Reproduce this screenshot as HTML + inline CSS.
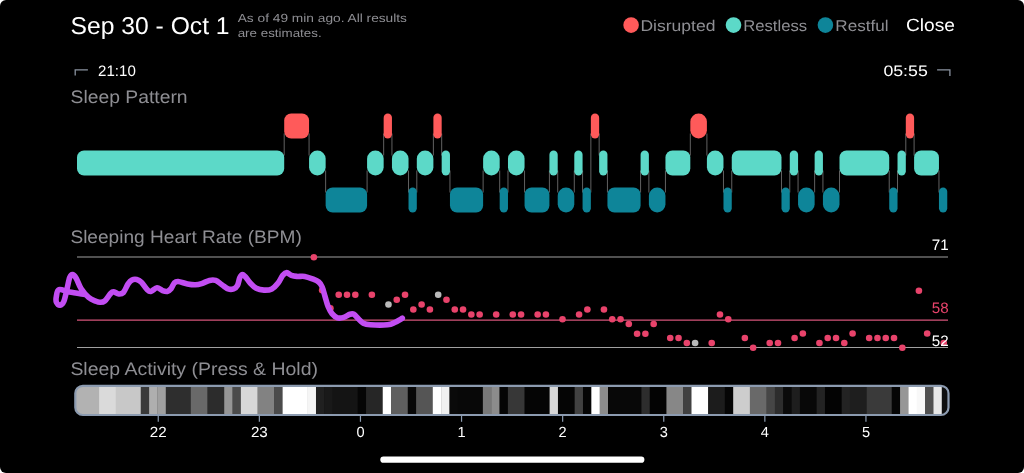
<!DOCTYPE html>
<html><head><meta charset="utf-8"><title>Sleep</title>
<style>
html,body{margin:0;padding:0;background:#fff;}
body{width:1024px;height:473px;overflow:hidden;}
#app{position:absolute;left:0;top:0;width:1024px;height:473px;background:#000;border-radius:6px;overflow:hidden;}
svg{position:absolute;left:0;top:0;}
text{font-family:"Liberation Sans",sans-serif;text-rendering:geometricPrecision;}
</style></head><body><div id="app">
<svg width="1024" height="473" viewBox="0 0 1024 473">
<defs><clipPath id="ac"><rect x="75.3" y="385.8" width="873.2" height="29.2" rx="7.5"/></clipPath></defs>
<!-- header -->
<text x="70.6" y="33.6" font-size="24.3" fill="#fff" textLength="159" lengthAdjust="spacingAndGlyphs">Sep 30 - Oct 1</text>
<text x="237.7" y="22.1" font-size="11.8" fill="#8e8e93" textLength="169.3" lengthAdjust="spacingAndGlyphs">As of 49 min ago. All results</text>
<text x="237.7" y="36.7" font-size="11.8" fill="#8e8e93" textLength="84" lengthAdjust="spacingAndGlyphs">are estimates.</text>
<circle cx="631.1" cy="25.1" r="7.8" fill="#ff5a5a"/>
<text x="640.4" y="30.8" font-size="15.6" fill="#8e8e93" textLength="75" lengthAdjust="spacingAndGlyphs">Disrupted</text>
<circle cx="733.5" cy="25.1" r="7.8" fill="#5cd9c8"/>
<text x="743.2" y="30.8" font-size="15.6" fill="#8e8e93" textLength="64" lengthAdjust="spacingAndGlyphs">Restless</text>
<circle cx="825.4" cy="25.1" r="7.8" fill="#0e8599"/>
<text x="835.3" y="30.8" font-size="15.6" fill="#8e8e93" textLength="53.2" lengthAdjust="spacingAndGlyphs">Restful</text>
<text x="906" y="31.4" font-size="17.7" fill="#fff" textLength="49" lengthAdjust="spacingAndGlyphs">Close</text>
<!-- time range -->
<path d="M75.2,75.6 V69.8 H87.9" fill="none" stroke="#8a93a0" stroke-width="1.3"/>
<text x="98.1" y="75.5" font-size="15.2" fill="#fff" textLength="37.7" lengthAdjust="spacingAndGlyphs">21:10</text>
<text x="883.4" y="75.5" font-size="15.2" fill="#fff" textLength="44.4" lengthAdjust="spacingAndGlyphs">05:55</text>
<path d="M937.1,69.9 H949.9 V75.9" fill="none" stroke="#8a93a0" stroke-width="1.3"/>
<text x="70.6" y="102.6" font-size="18.1" fill="#8e8e93" textLength="117" lengthAdjust="spacingAndGlyphs">Sleep Pattern</text>
<!-- pattern -->
<g stroke="#7a7a7a" stroke-width="0.8"><line x1="284.20" y1="133.5" x2="284.20" y2="155.5"/><line x1="309.07" y1="133.5" x2="309.07" y2="155.5"/><line x1="325.64" y1="170.5" x2="325.64" y2="192.5"/><line x1="367.08" y1="170.5" x2="367.08" y2="192.5"/><line x1="383.66" y1="133.5" x2="383.66" y2="155.5"/><line x1="391.95" y1="133.5" x2="391.95" y2="155.5"/><line x1="408.52" y1="170.5" x2="408.52" y2="192.5"/><line x1="416.81" y1="170.5" x2="416.81" y2="192.5"/><line x1="433.39" y1="133.5" x2="433.39" y2="155.5"/><line x1="441.68" y1="133.5" x2="441.68" y2="155.5"/><line x1="449.96" y1="170.5" x2="449.96" y2="192.5"/><line x1="483.12" y1="170.5" x2="483.12" y2="192.5"/><line x1="499.69" y1="170.5" x2="499.69" y2="192.5"/><line x1="507.98" y1="170.5" x2="507.98" y2="192.5"/><line x1="524.56" y1="170.5" x2="524.56" y2="192.5"/><line x1="549.42" y1="170.5" x2="549.42" y2="192.5"/><line x1="557.71" y1="170.5" x2="557.71" y2="192.5"/><line x1="574.29" y1="170.5" x2="574.29" y2="192.5"/><line x1="582.57" y1="170.5" x2="582.57" y2="192.5"/><line x1="590.86" y1="133.5" x2="590.86" y2="192.5"/><line x1="599.15" y1="133.5" x2="599.15" y2="155.5"/><line x1="607.44" y1="170.5" x2="607.44" y2="192.5"/><line x1="640.59" y1="170.5" x2="640.59" y2="192.5"/><line x1="648.88" y1="170.5" x2="648.88" y2="192.5"/><line x1="665.45" y1="170.5" x2="665.45" y2="192.5"/><line x1="690.32" y1="133.5" x2="690.32" y2="155.5"/><line x1="706.90" y1="133.5" x2="706.90" y2="155.5"/><line x1="723.47" y1="170.5" x2="723.47" y2="192.5"/><line x1="731.76" y1="170.5" x2="731.76" y2="192.5"/><line x1="781.49" y1="170.5" x2="781.49" y2="192.5"/><line x1="789.78" y1="170.5" x2="789.78" y2="192.5"/><line x1="798.06" y1="170.5" x2="798.06" y2="192.5"/><line x1="814.64" y1="170.5" x2="814.64" y2="192.5"/><line x1="822.93" y1="170.5" x2="822.93" y2="192.5"/><line x1="839.50" y1="170.5" x2="839.50" y2="192.5"/><line x1="889.23" y1="170.5" x2="889.23" y2="192.5"/><line x1="897.52" y1="170.5" x2="897.52" y2="192.5"/><line x1="905.81" y1="133.5" x2="905.81" y2="155.5"/><line x1="914.10" y1="133.5" x2="914.10" y2="155.5"/><line x1="938.96" y1="170.5" x2="938.96" y2="192.5"/></g>
<rect x="77.00" y="150.5" width="207.20" height="25" rx="7.00" fill="#5cd9c8"/>
<rect x="284.20" y="113.5" width="24.86" height="25" rx="7.00" fill="#ff5a5a"/>
<rect x="309.07" y="150.5" width="16.58" height="25" rx="8.29" fill="#5cd9c8"/>
<rect x="325.64" y="187.5" width="41.44" height="25" rx="7.00" fill="#0e8599"/>
<rect x="367.08" y="150.5" width="16.58" height="25" rx="8.29" fill="#5cd9c8"/>
<rect x="383.66" y="113.5" width="8.29" height="25" rx="4.14" fill="#ff5a5a"/>
<rect x="391.95" y="150.5" width="16.58" height="25" rx="8.29" fill="#5cd9c8"/>
<rect x="408.52" y="187.5" width="8.29" height="25" rx="4.14" fill="#0e8599"/>
<rect x="416.81" y="150.5" width="16.58" height="25" rx="8.29" fill="#5cd9c8"/>
<rect x="433.39" y="113.5" width="8.29" height="25" rx="4.14" fill="#ff5a5a"/>
<rect x="441.68" y="150.5" width="8.29" height="25" rx="4.14" fill="#5cd9c8"/>
<rect x="449.96" y="187.5" width="33.15" height="25" rx="7.00" fill="#0e8599"/>
<rect x="483.12" y="150.5" width="16.58" height="25" rx="8.29" fill="#5cd9c8"/>
<rect x="499.69" y="187.5" width="8.29" height="25" rx="4.14" fill="#0e8599"/>
<rect x="507.98" y="150.5" width="16.58" height="25" rx="8.29" fill="#5cd9c8"/>
<rect x="524.56" y="187.5" width="24.86" height="25" rx="7.00" fill="#0e8599"/>
<rect x="549.42" y="150.5" width="8.29" height="25" rx="4.14" fill="#5cd9c8"/>
<rect x="557.71" y="187.5" width="16.58" height="25" rx="8.29" fill="#0e8599"/>
<rect x="574.29" y="150.5" width="8.29" height="25" rx="4.14" fill="#5cd9c8"/>
<rect x="582.57" y="187.5" width="8.29" height="25" rx="4.14" fill="#0e8599"/>
<rect x="590.86" y="113.5" width="8.29" height="25" rx="4.14" fill="#ff5a5a"/>
<rect x="599.15" y="150.5" width="8.29" height="25" rx="4.14" fill="#5cd9c8"/>
<rect x="607.44" y="187.5" width="33.15" height="25" rx="7.00" fill="#0e8599"/>
<rect x="640.59" y="150.5" width="8.29" height="25" rx="4.14" fill="#5cd9c8"/>
<rect x="648.88" y="187.5" width="16.58" height="25" rx="8.29" fill="#0e8599"/>
<rect x="665.45" y="150.5" width="24.86" height="25" rx="7.00" fill="#5cd9c8"/>
<rect x="690.32" y="113.5" width="16.58" height="25" rx="8.29" fill="#ff5a5a"/>
<rect x="706.90" y="150.5" width="16.58" height="25" rx="8.29" fill="#5cd9c8"/>
<rect x="723.47" y="187.5" width="8.29" height="25" rx="4.14" fill="#0e8599"/>
<rect x="731.76" y="150.5" width="49.73" height="25" rx="7.00" fill="#5cd9c8"/>
<rect x="781.49" y="187.5" width="8.29" height="25" rx="4.14" fill="#0e8599"/>
<rect x="789.78" y="150.5" width="8.29" height="25" rx="4.14" fill="#5cd9c8"/>
<rect x="798.06" y="187.5" width="16.58" height="25" rx="8.29" fill="#0e8599"/>
<rect x="814.64" y="150.5" width="8.29" height="25" rx="4.14" fill="#5cd9c8"/>
<rect x="822.93" y="187.5" width="16.58" height="25" rx="8.29" fill="#0e8599"/>
<rect x="839.50" y="150.5" width="49.73" height="25" rx="7.00" fill="#5cd9c8"/>
<rect x="889.23" y="187.5" width="8.29" height="25" rx="4.14" fill="#0e8599"/>
<rect x="897.52" y="150.5" width="8.29" height="25" rx="4.14" fill="#5cd9c8"/>
<rect x="905.81" y="113.5" width="8.29" height="25" rx="4.14" fill="#ff5a5a"/>
<rect x="914.10" y="150.5" width="24.86" height="25" rx="7.00" fill="#5cd9c8"/>
<rect x="938.96" y="187.5" width="8.29" height="25" rx="4.14" fill="#0e8599"/>
<!-- heart rate -->
<text x="70.4" y="243.2" font-size="18.1" fill="#8e8e93" textLength="231.4" lengthAdjust="spacingAndGlyphs">Sleeping Heart Rate (BPM)</text>
<line x1="77" y1="256.95" x2="948" y2="256.95" stroke="#a0a0a0" stroke-width="1.1"/>
<line x1="77" y1="347.45" x2="948" y2="347.45" stroke="#a0a0a0" stroke-width="1.1"/>
<line x1="77" y1="320.15" x2="948" y2="320.15" stroke="#d4557a" stroke-width="1.1"/>
<text x="948.6" y="249.5" font-size="15.2" fill="#fff" text-anchor="end">71</text>
<text x="948.6" y="313.3" font-size="15.2" fill="#e8436b" text-anchor="end">58</text>
<circle cx="313.87" cy="257.20" r="3.3" fill="#e8436b"/><circle cx="322.15" cy="290.20" r="3.3" fill="#e8436b"/><circle cx="330.44" cy="308.20" r="3.3" fill="#e8436b"/><circle cx="338.73" cy="294.70" r="3.3" fill="#e8436b"/><circle cx="347.02" cy="294.70" r="3.3" fill="#e8436b"/><circle cx="355.31" cy="294.70" r="3.3" fill="#e8436b"/><circle cx="371.88" cy="294.70" r="3.3" fill="#e8436b"/><circle cx="388.46" cy="304.45" r="3.3" fill="#b9b9b9"/><circle cx="396.75" cy="299.70" r="3.3" fill="#e8436b"/><circle cx="405.04" cy="294.70" r="3.3" fill="#e8436b"/><circle cx="413.32" cy="309.45" r="3.3" fill="#e8436b"/><circle cx="421.61" cy="304.45" r="3.3" fill="#e8436b"/><circle cx="429.90" cy="309.45" r="3.3" fill="#e8436b"/><circle cx="438.19" cy="294.70" r="3.3" fill="#b9b9b9"/><circle cx="446.48" cy="299.70" r="3.3" fill="#e8436b"/><circle cx="454.76" cy="309.45" r="3.3" fill="#e8436b"/><circle cx="463.05" cy="309.45" r="3.3" fill="#e8436b"/><circle cx="471.34" cy="314.45" r="3.3" fill="#e8436b"/><circle cx="479.63" cy="314.45" r="3.3" fill="#e8436b"/><circle cx="496.20" cy="314.45" r="3.3" fill="#e8436b"/><circle cx="512.78" cy="314.45" r="3.3" fill="#e8436b"/><circle cx="521.07" cy="314.45" r="3.3" fill="#e8436b"/><circle cx="537.65" cy="314.45" r="3.3" fill="#e8436b"/><circle cx="545.93" cy="314.45" r="3.3" fill="#e8436b"/><circle cx="562.51" cy="319.20" r="3.3" fill="#e8436b"/><circle cx="579.09" cy="314.45" r="3.3" fill="#e8436b"/><circle cx="587.37" cy="309.45" r="3.3" fill="#e8436b"/><circle cx="603.95" cy="309.45" r="3.3" fill="#e8436b"/><circle cx="612.24" cy="319.20" r="3.3" fill="#e8436b"/><circle cx="620.53" cy="319.20" r="3.3" fill="#e8436b"/><circle cx="628.81" cy="323.95" r="3.3" fill="#e8436b"/><circle cx="637.10" cy="333.70" r="3.3" fill="#e8436b"/><circle cx="645.39" cy="333.70" r="3.3" fill="#e8436b"/><circle cx="653.68" cy="323.95" r="3.3" fill="#e8436b"/><circle cx="670.25" cy="337.95" r="3.3" fill="#e8436b"/><circle cx="678.54" cy="337.95" r="3.3" fill="#e8436b"/><circle cx="686.83" cy="342.95" r="3.3" fill="#e8436b"/><circle cx="695.12" cy="342.95" r="3.3" fill="#b9b9b9"/><circle cx="711.70" cy="342.95" r="3.3" fill="#e8436b"/><circle cx="719.98" cy="314.45" r="3.3" fill="#e8436b"/><circle cx="728.27" cy="319.20" r="3.3" fill="#e8436b"/><circle cx="744.85" cy="337.95" r="3.3" fill="#e8436b"/><circle cx="753.14" cy="347.70" r="3.3" fill="#e8436b"/><circle cx="769.71" cy="342.95" r="3.3" fill="#e8436b"/><circle cx="778.00" cy="342.95" r="3.3" fill="#e8436b"/><circle cx="794.58" cy="337.95" r="3.3" fill="#e8436b"/><circle cx="802.86" cy="333.45" r="3.3" fill="#e8436b"/><circle cx="819.44" cy="342.95" r="3.3" fill="#e8436b"/><circle cx="827.73" cy="337.95" r="3.3" fill="#e8436b"/><circle cx="836.02" cy="337.95" r="3.3" fill="#e8436b"/><circle cx="844.30" cy="342.95" r="3.3" fill="#e8436b"/><circle cx="852.59" cy="333.45" r="3.3" fill="#e8436b"/><circle cx="869.17" cy="337.95" r="3.3" fill="#e8436b"/><circle cx="877.46" cy="337.95" r="3.3" fill="#e8436b"/><circle cx="885.75" cy="337.95" r="3.3" fill="#e8436b"/><circle cx="894.03" cy="337.95" r="3.3" fill="#e8436b"/><circle cx="902.32" cy="347.70" r="3.3" fill="#e8436b"/><circle cx="918.90" cy="290.70" r="3.3" fill="#e8436b"/><circle cx="927.19" cy="333.45" r="3.3" fill="#e8436b"/><circle cx="943.76" cy="342.95" r="3.3" fill="#e8436b"/>
<text x="948.6" y="345.9" font-size="15.2" fill="#fff" text-anchor="end">52</text>
<path d="M84.80,294.50 C82.25,294.08 73.80,292.82 69.50,292.00 C65.20,291.18 61.20,288.80 59.00,289.60 C56.80,290.40 56.72,294.65 56.30,296.80 C55.88,298.95 55.88,301.08 56.50,302.50 C57.12,303.92 58.78,305.47 60.00,305.30 C61.22,305.13 62.63,304.22 63.80,301.50 C64.97,298.78 66.02,293.00 67.00,289.00 C67.98,285.00 68.75,279.90 69.70,277.50 C70.65,275.10 71.60,274.43 72.70,274.60 C73.80,274.77 74.92,276.18 76.30,278.50 C77.68,280.82 78.95,285.35 81.00,288.50 C83.05,291.65 86.10,295.27 88.60,297.40 C91.10,299.53 94.10,300.48 96.00,301.30 C97.90,302.12 98.55,302.35 100.00,302.30 C101.45,302.25 103.00,302.38 104.70,301.00 C106.40,299.62 108.77,295.55 110.20,294.00 C111.63,292.45 111.88,291.70 113.30,291.70 C114.72,291.70 117.07,293.87 118.75,294.00 C120.43,294.13 121.84,294.18 123.40,292.50 C124.96,290.82 126.67,285.98 128.10,283.90 C129.53,281.82 130.57,280.73 132.00,280.00 C133.43,279.27 135.13,279.12 136.70,279.50 C138.27,279.88 139.70,280.67 141.40,282.30 C143.10,283.93 145.33,287.78 146.90,289.30 C148.47,290.82 149.12,291.65 150.80,291.40 C152.48,291.15 155.05,287.93 157.00,287.80 C158.95,287.67 160.80,290.00 162.50,290.60 C164.20,291.20 165.77,291.73 167.20,291.40 C168.63,291.07 169.93,289.98 171.10,288.60 C172.27,287.22 173.03,284.28 174.20,283.10 C175.37,281.92 175.88,281.37 178.10,281.50 C180.32,281.63 184.63,283.37 187.50,283.90 C190.37,284.43 192.95,284.75 195.30,284.70 C197.65,284.65 199.25,284.32 201.60,283.60 C203.95,282.88 207.07,280.93 209.40,280.40 C211.73,279.87 213.52,279.68 215.60,280.40 C217.68,281.12 219.82,283.28 221.90,284.70 C223.98,286.12 226.15,288.20 228.10,288.90 C230.05,289.60 232.03,289.48 233.60,288.90 C235.17,288.32 236.47,287.28 237.50,285.40 C238.53,283.52 238.97,279.42 239.80,277.60 C240.63,275.78 241.45,274.50 242.50,274.50 C243.55,274.50 244.85,276.22 246.10,277.60 C247.35,278.98 248.31,281.03 250.00,282.80 C251.69,284.57 253.92,287.03 256.25,288.25 C258.58,289.47 261.39,289.99 264.00,290.10 C266.61,290.21 269.55,290.07 271.90,288.90 C274.25,287.73 276.28,285.37 278.10,283.10 C279.92,280.83 281.37,277.05 282.80,275.30 C284.23,273.55 285.27,272.60 286.70,272.60 C288.13,272.60 289.70,274.67 291.40,275.30 C293.10,275.93 294.68,276.22 296.90,276.40 C299.12,276.58 302.10,275.98 304.70,276.40 C307.30,276.82 310.16,277.97 312.50,278.90 C314.84,279.83 317.13,280.65 318.75,282.00 C320.37,283.35 321.16,284.60 322.20,287.00 C323.24,289.40 324.02,293.15 325.00,296.40 C325.98,299.65 326.93,303.63 328.10,306.50 C329.27,309.37 330.43,311.72 332.00,313.60 C333.57,315.48 335.54,317.17 337.50,317.80 C339.46,318.43 341.67,317.98 343.75,317.40 C345.83,316.82 348.31,314.82 350.00,314.30 C351.69,313.78 352.47,313.52 353.90,314.30 C355.33,315.08 357.03,317.51 358.60,319.00 C360.17,320.49 361.35,322.28 363.30,323.25 C365.25,324.22 366.27,324.54 370.30,324.80 C374.33,325.06 383.33,325.23 387.50,324.80 C391.67,324.37 392.83,323.29 395.30,322.20 C397.77,321.11 401.13,318.91 402.30,318.25" fill="none" stroke="#c24df2" stroke-width="5.6" stroke-linecap="round" stroke-linejoin="round"/>
<!-- activity -->
<text x="70.4" y="375.2" font-size="18.1" fill="#8e8e93" textLength="247.6" lengthAdjust="spacingAndGlyphs">Sleep Activity (Press &amp; Hold)</text>
<g clip-path="url(#ac)"><rect x="74.00" y="385" width="25.33" height="31" fill="rgb(178,178,178)"/><rect x="99.03" y="385" width="16.99" height="31" fill="rgb(218,218,218)"/><rect x="115.72" y="385" width="25.33" height="31" fill="rgb(200,200,200)"/><rect x="140.75" y="385" width="8.64" height="31" fill="rgb(58,58,58)"/><rect x="149.10" y="385" width="8.64" height="31" fill="rgb(175,175,175)"/><rect x="157.44" y="385" width="8.64" height="31" fill="rgb(160,160,160)"/><rect x="165.78" y="385" width="25.33" height="31" fill="rgb(46,46,46)"/><rect x="190.82" y="385" width="16.99" height="31" fill="rgb(105,105,105)"/><rect x="207.50" y="385" width="16.99" height="31" fill="rgb(44,44,44)"/><rect x="224.19" y="385" width="8.64" height="31" fill="rgb(150,150,150)"/><rect x="232.54" y="385" width="8.64" height="31" fill="rgb(75,75,75)"/><rect x="240.88" y="385" width="16.99" height="31" fill="rgb(215,215,215)"/><rect x="257.57" y="385" width="16.99" height="31" fill="rgb(130,130,130)"/><rect x="274.26" y="385" width="8.64" height="31" fill="rgb(75,75,75)"/><rect x="282.60" y="385" width="25.33" height="31" fill="rgb(255,255,255)"/><rect x="307.63" y="385" width="8.64" height="31" fill="rgb(245,245,245)"/><rect x="315.98" y="385" width="8.64" height="31" fill="rgb(32,32,32)"/><rect x="324.32" y="385" width="8.64" height="31" fill="rgb(25,25,25)"/><rect x="332.66" y="385" width="25.33" height="31" fill="rgb(20,20,20)"/><rect x="357.70" y="385" width="8.64" height="31" fill="rgb(5,5,5)"/><rect x="366.04" y="385" width="16.99" height="31" fill="rgb(38,38,38)"/><rect x="382.73" y="385" width="8.64" height="31" fill="rgb(255,255,255)"/><rect x="391.07" y="385" width="16.99" height="31" fill="rgb(95,95,95)"/><rect x="407.76" y="385" width="8.64" height="31" fill="rgb(8,8,8)"/><rect x="416.10" y="385" width="16.99" height="31" fill="rgb(85,85,85)"/><rect x="432.79" y="385" width="8.64" height="31" fill="rgb(255,255,255)"/><rect x="441.14" y="385" width="8.64" height="31" fill="rgb(240,240,240)"/><rect x="449.48" y="385" width="8.64" height="31" fill="rgb(10,10,10)"/><rect x="457.82" y="385" width="25.33" height="31" fill="rgb(8,8,8)"/><rect x="482.86" y="385" width="8.64" height="31" fill="rgb(120,120,120)"/><rect x="491.20" y="385" width="8.64" height="31" fill="rgb(140,140,140)"/><rect x="499.54" y="385" width="8.64" height="31" fill="rgb(5,5,5)"/><rect x="507.89" y="385" width="16.99" height="31" fill="rgb(55,55,55)"/><rect x="524.58" y="385" width="25.33" height="31" fill="rgb(5,5,5)"/><rect x="549.61" y="385" width="8.64" height="31" fill="rgb(215,215,215)"/><rect x="557.95" y="385" width="16.99" height="31" fill="rgb(5,5,5)"/><rect x="574.64" y="385" width="8.64" height="31" fill="rgb(65,65,65)"/><rect x="582.98" y="385" width="8.64" height="31" fill="rgb(5,5,5)"/><rect x="591.33" y="385" width="8.64" height="31" fill="rgb(255,255,255)"/><rect x="599.67" y="385" width="8.64" height="31" fill="rgb(140,140,140)"/><rect x="608.02" y="385" width="33.68" height="31" fill="rgb(8,8,8)"/><rect x="641.39" y="385" width="8.64" height="31" fill="rgb(45,45,45)"/><rect x="649.74" y="385" width="16.99" height="31" fill="rgb(3,3,3)"/><rect x="666.42" y="385" width="16.99" height="31" fill="rgb(135,135,135)"/><rect x="683.11" y="385" width="8.64" height="31" fill="rgb(65,65,65)"/><rect x="691.46" y="385" width="16.99" height="31" fill="rgb(255,255,255)"/><rect x="708.14" y="385" width="16.99" height="31" fill="rgb(28,28,28)"/><rect x="724.83" y="385" width="8.64" height="31" fill="rgb(5,5,5)"/><rect x="733.18" y="385" width="16.99" height="31" fill="rgb(205,205,205)"/><rect x="749.86" y="385" width="16.99" height="31" fill="rgb(105,105,105)"/><rect x="766.55" y="385" width="8.64" height="31" fill="rgb(70,70,70)"/><rect x="774.90" y="385" width="8.64" height="31" fill="rgb(45,45,45)"/><rect x="783.24" y="385" width="8.64" height="31" fill="rgb(10,10,10)"/><rect x="791.58" y="385" width="8.64" height="31" fill="rgb(30,30,30)"/><rect x="799.93" y="385" width="16.99" height="31" fill="rgb(8,8,8)"/><rect x="816.62" y="385" width="8.64" height="31" fill="rgb(35,35,35)"/><rect x="824.96" y="385" width="16.99" height="31" fill="rgb(3,3,3)"/><rect x="841.65" y="385" width="8.64" height="31" fill="rgb(35,35,35)"/><rect x="849.99" y="385" width="16.99" height="31" fill="rgb(30,30,30)"/><rect x="866.68" y="385" width="25.33" height="31" fill="rgb(58,58,58)"/><rect x="891.71" y="385" width="8.64" height="31" fill="rgb(5,5,5)"/><rect x="900.06" y="385" width="8.64" height="31" fill="rgb(150,150,150)"/><rect x="908.40" y="385" width="8.64" height="31" fill="rgb(255,255,255)"/><rect x="916.74" y="385" width="8.64" height="31" fill="rgb(248,248,248)"/><rect x="925.09" y="385" width="8.64" height="31" fill="rgb(80,80,80)"/><rect x="933.43" y="385" width="8.64" height="31" fill="rgb(232,232,232)"/><rect x="941.78" y="385" width="8.64" height="31" fill="rgb(15,15,15)"/></g>
<rect x="75.3" y="385.8" width="873.2" height="29.2" rx="7.5" fill="none" stroke="#8c9bb0" stroke-width="2.2"/>
<g stroke="#8b9bb0" stroke-width="1.2"><line x1="158.25" y1="416" x2="158.25" y2="421.8"/><line x1="259.35" y1="416" x2="259.35" y2="421.8"/><line x1="360.45" y1="416" x2="360.45" y2="421.8"/><line x1="461.55" y1="416" x2="461.55" y2="421.8"/><line x1="562.65" y1="416" x2="562.65" y2="421.8"/><line x1="663.75" y1="416" x2="663.75" y2="421.8"/><line x1="764.85" y1="416" x2="764.85" y2="421.8"/><line x1="865.95" y1="416" x2="865.95" y2="421.8"/></g>
<g font-size="14.6" fill="#fff"><text x="149.80" y="437" textLength="16.9" lengthAdjust="spacingAndGlyphs">22</text><text x="250.90" y="437" textLength="16.9" lengthAdjust="spacingAndGlyphs">23</text><text x="360.45" y="437" text-anchor="middle">0</text><text x="461.55" y="437" text-anchor="middle">1</text><text x="562.65" y="437" text-anchor="middle">2</text><text x="663.75" y="437" text-anchor="middle">3</text><text x="764.85" y="437" text-anchor="middle">4</text><text x="865.95" y="437" text-anchor="middle">5</text></g>
<rect x="380.3" y="456.6" width="264.1" height="6.2" rx="3.1" fill="#fff"/>
</svg>
</div></body></html>
